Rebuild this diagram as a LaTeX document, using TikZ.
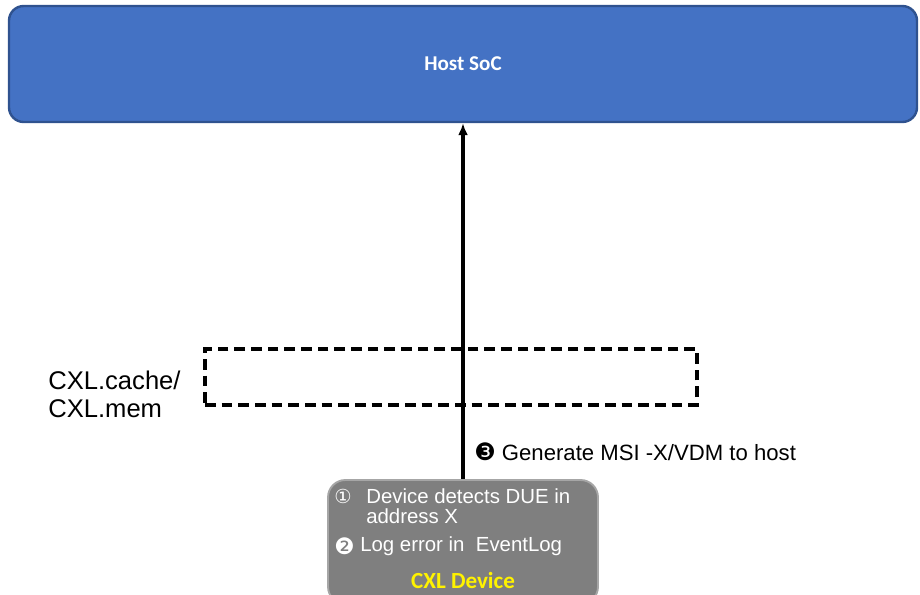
\documentclass[tikz,border=0pt]{standalone}
\usepackage{fontspec}
\setmainfont{Liberation Sans}
\newfontfamily\calfont{Carlito}
\newfontfamily\symfont{DejaVu Sans}
\usetikzlibrary{arrows.meta}
\definecolor{hostfill}{HTML}{4472C4}
\definecolor{hostline}{HTML}{2F528F}
\definecolor{devfill}{HTML}{7F7F7F}
\definecolor{devline}{HTML}{A6A6A6}
\tikzset{
  hostbox/.style={draw=hostline, line width=1.8pt, fill=hostfill, rounded corners=11pt,
    minimum width=681pt, minimum height=87pt, inner sep=0pt,
    text=white, font=\calfont\bfseries\fontsize{15.8}{19}\selectfont},
  devbox/.style={draw=devline, line width=1.4pt, fill=devfill, rounded corners=13pt,
    minimum width=202.5pt, minimum height=93pt, inner sep=0pt},
  busbox/.style={draw=black, line width=2.6pt, dash pattern=on 8pt off 4.5pt,
    minimum width=369pt, minimum height=42pt, inner sep=0pt},
  devtext/.style={text=white, anchor=west, inner sep=0pt, font=\fontsize{15.3}{18}\selectfont},
  plain/.style={inner sep=0pt, font=\fontsize{16.6}{20}\selectfont},
  link/.style={line width=2.6pt, -{Latex[length=9pt,width=7.5pt]}}
}
\begin{document}
\begin{tikzpicture}[x=0.75pt, y=-0.75pt]
  \useasboundingbox (0,0) rectangle (920,594);
  % host and device blocks
  \node[hostbox] (host) at (463,64) {Host SoC};
  \node[devbox] (dev) at (463,542) {};
  % link layer region
  \node[busbox] (bus) at (451,377) {};
  \node[plain, anchor=west, align=left, font=\fontsize{19.2}{21}\selectfont] (buslbl) at (48,394)
    {CXL.cache/\\CXL.mem};
  % message to host
  \draw[link] (dev.north) -- (host.south);
  \node[plain, anchor=west] (msg) at (474,452) {{\symfont\fontsize{18}{20}\selectfont\raisebox{-0.5pt}{\char"2778}}\ Generate MSI -X/VDM to host};
  % device contents
  \node[devtext, font=\symfont\fontsize{14.5}{16}\selectfont] (n1) at (334,496) {\char"2460};
  \node[devtext] (t1) at (366,496) {Device detects DUE in};
  \node[devtext] (t1b) at (366,516) {address X};
  \node[devtext, font=\symfont\fontsize{17}{18}\selectfont] (n2) at (334,546) {\char"2777};
  \node[devtext] (t2) at (360,546) {Log error in\ \ EventLog};
  \node[inner sep=0pt, text=yellow, font=\calfont\bfseries\fontsize{17.3}{20}\selectfont] (devlbl) at (463,580) {CXL Device};
\end{tikzpicture}
\end{document}
